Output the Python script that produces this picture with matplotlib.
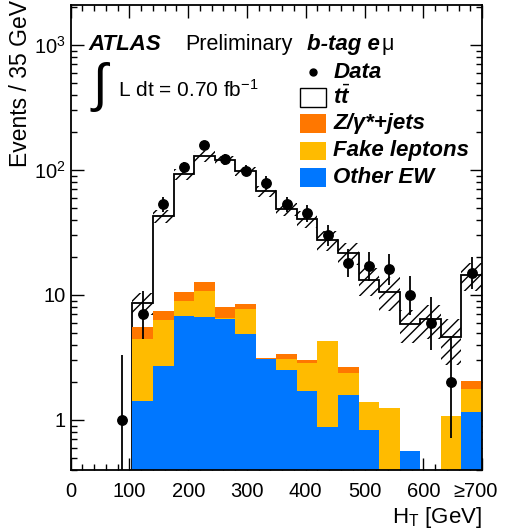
import numpy as np
import matplotlib
matplotlib.use("Agg")
import matplotlib.pyplot as plt
from matplotlib.patches import Rectangle
from matplotlib.transforms import ScaledTranslation
from matplotlib.ticker import FixedLocator, FixedFormatter, MultipleLocator, LogLocator, NullFormatter

plt.rcParams['font.family'] = ['Liberation Sans', 'DejaVu Sans']
plt.rcParams['mathtext.fontset'] = 'custom'
plt.rcParams['mathtext.rm'] = 'Liberation Sans'
plt.rcParams['mathtext.it'] = 'Liberation Sans:italic:bold'
plt.rcParams['mathtext.bf'] = 'Liberation Sans:bold'
plt.rcParams['hatch.linewidth'] = 1.0

# binning: 35 GeV bins, last bin is overflow (>= 665)
edges = np.arange(105, 701, 35)

# stacked backgrounds (events per bin), bins 105..700
other_ew = [1.42, 2.7, 6.8, 6.7, 6.43, 4.87, 3.06, 2.51, 1.71, 0.88, 1.58, 0.83, 0, 0.56, 0, 0, 1.15]
fake_lep = [3.03, 3.65, 2.2, 4.1, 0.12, 2.83, 0.04, 0.56, 1.16, 3.38, 0.78, 0.55, 1.25, 0, 0, 1.08, 0.61]
z_jets = [1.13, 1.1, 1.6, 1.9, 1.52, 0.8, 0.03, 0.3, 0.15, 0, 0.28, 0, 0, 0, 0, 0, 0.29]
ttbar = [3.0, 35.5, 81.4, 116.3, 112.0, 89.5, 64.9, 45.6, 37.6, 23.2, 19.0, 11.8, 9.4, 5.3, 6.4, 3.5, 12.3]
# relative systematic uncertainty on total prediction
syst = [0.2, 0.12, 0.1, 0.1, 0.08, 0.08, 0.1, 0.12, 0.15, 0.18, 0.2, 0.25, 0.3, 0.3, 0.3, 0.4, 0.25]

# data
data_x = [87.5, 122.5, 157.5, 192.5, 227.5, 262.5, 297.5, 332.5, 367.5, 402.5, 437.5,
          472.5, 507.5, 542.5, 577.5, 612.5, 647.5, 682.5]
data_y = [1, 7, 53, 105, 158, 122, 99, 79, 53, 45, 30, 18, 17, 16, 10, 6, 2, 15]

colors = {'z': '#ff7700', 'fake': '#ffbb00', 'ew': '#0077ff'}

fig = plt.figure(figsize=(5.05, 5.30), dpi=100)
ax = fig.add_axes([0.140, 0.1123, 0.8145, 0.8788])
ax.set_yscale('log')

floor = 1e-3
c1 = np.array(other_ew)
c2 = c1 + np.array(fake_lep)
c3 = c2 + np.array(z_jets)
total = c3 + np.array(ttbar)

# ttbar (white) drawn as full total histogram with black outline
ax.stairs(total, edges, baseline=floor, fill=True, facecolor='white', edgecolor='black',
          linewidth=1.3, zorder=1)
ax.stairs(np.maximum(c3, floor), edges, baseline=floor, fill=True, color=colors['z'], lw=0, zorder=2)
ax.stairs(np.maximum(c2, floor), edges, baseline=floor, fill=True, color=colors['fake'], lw=0, zorder=2)
ax.stairs(np.maximum(c1, floor), edges, baseline=floor, fill=True, color=colors['ew'], lw=0, zorder=2)

# uncertainty band
s = np.array(syst)
centers = 0.5 * (edges[:-1] + edges[1:])
ax.bar(centers, total * 2 * s, bottom=total * (1 - s), width=35, fill=False, hatch='///',
       edgecolor='black', linewidth=0, zorder=3)

# data with Poisson (Gehrels) errors
n = np.array(data_y, dtype=float)
up = 1 + np.sqrt(n + 0.75)
lo = n - n * (1 - 1 / (9 * n) - 1 / (3 * np.sqrt(n))) ** 3
ax.errorbar(data_x, data_y, yerr=[lo, up], fmt='o', color='black', ms=6.8, elinewidth=1.3,
            capsize=0, zorder=4)

ax.set_xlim(0, 700)
ax.set_ylim(0.394, 2100)

ax.xaxis.set_major_locator(FixedLocator([0, 100, 200, 300, 400, 500, 600, 700]))
ax.xaxis.set_major_formatter(FixedFormatter(['0', '100', '200', '300', '400', '500', '600', '≥700']))
ax.xaxis.set_minor_locator(MultipleLocator(20))
ax.yaxis.set_major_locator(FixedLocator([1, 10, 100, 1000]))
ax.yaxis.set_major_formatter(FixedFormatter(['1', '10', '$10^2$', '$10^3$']))
ax.yaxis.set_minor_locator(LogLocator(base=10, subs=np.arange(2, 10)))
ax.yaxis.set_minor_formatter(NullFormatter())
ax.tick_params(which='both', direction='in', top=True, right=True, labelsize=14.5, width=1)
ax.tick_params(which='major', length=9)
ax.tick_params(which='minor', length=4.5)
ax.tick_params(axis='x', pad=8)
for sp in ax.spines.values():
    sp.set_linewidth(1.3)

fig.canvas.draw()
last = ax.get_xticklabels()[-1]
last.set_transform(last.get_transform() + ScaledTranslation(-0.06, 0, fig.dpi_scale_trans))

ax.set_xlabel('H$_\\mathrm{T}$ [GeV]', fontsize=16, loc='right')
ax.xaxis.set_label_coords(1.0, -0.075)
ax.set_ylabel('Events / 35 GeV', fontsize=16.5, loc='top')
ax.yaxis.set_label_coords(-0.095, 1.01)

# labels
ax.text(0.042, 0.903, 'ATLAS', transform=ax.transAxes, fontsize=16, fontweight='bold',
        style='italic')
ax.text(0.278, 0.903, 'Preliminary', transform=ax.transAxes, fontsize=15.5)
tb = ax.text(0.574, 0.903, 'b-tag e', transform=ax.transAxes, fontsize=16, fontweight='bold',
             style='italic')
ax.annotate('μ', xy=(1, 0), xycoords=tb, xytext=(1, 0), textcoords='offset points',
            fontsize=15.5, va='bottom')
ax.text(0.052, 0.823, '∫', transform=ax.transAxes, fontsize=38, va='center')
ax.text(0.115, 0.8025, 'L dt = 0.70 fb$^{-1}$', transform=ax.transAxes, fontsize=15)

# legend
rows = [0.855, 0.801, 0.745, 0.686, 0.629]
labels = ['Data', '$t\\bar{t}$', 'Z/γ*+jets', 'Fake leptons', 'Other EW']
ax.plot([0.589], [rows[0]], 'o', color='black', ms=5, transform=ax.transAxes)
bw, bh = 0.064, 0.040
ax.add_patch(Rectangle((0.557, rows[1] - bh / 2), bw, bh, transform=ax.transAxes,
                       facecolor='white', edgecolor='black', lw=1))
for r, c in zip(rows[2:], [colors['z'], colors['fake'], colors['ew']]):
    ax.add_patch(Rectangle((0.557, r - bh / 2), bw, bh, transform=ax.transAxes,
                           facecolor=c, edgecolor='none'))
for r, lab in zip(rows, labels):
    ax.text(0.638, r, lab, transform=ax.transAxes, fontsize=16, fontweight='bold',
            style='italic', va='center')

fig.savefig('out.png', dpi=100)
